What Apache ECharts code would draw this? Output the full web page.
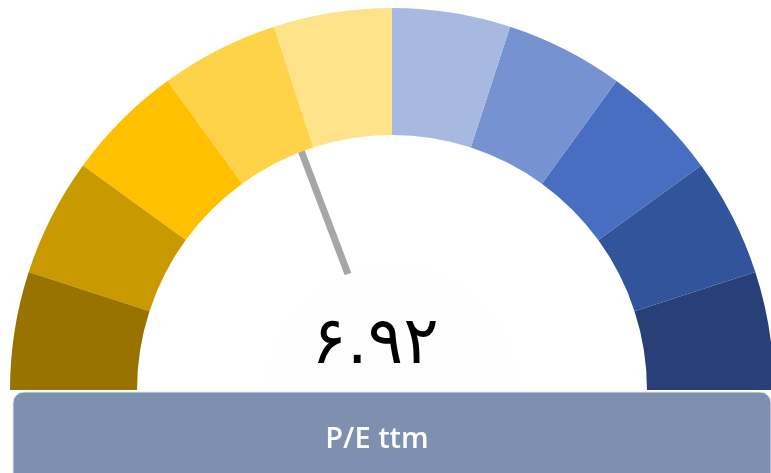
<!DOCTYPE html>
<html lang="en">
  <head>
    <meta charset="UTF-8">
    <title>P/E ttm</title>
    <script src="https://cdn.jsdelivr.net/npm/echarts@6/dist/echarts.min.js"></script>
    <style>
      html, body { margin: 0; padding: 0; background: #fff; }
      #chart { width: 771px; height: 473px; }
    </style>
  </head>
  <body>
    <div id="chart"></div>
    <script>
      // gauge range and value
      const gaugeMin = 0
      const gaugeMax = 18
      const peValue = 6.92
      const titleText = 'P/E ttm'
      // band colours, left to right (10 equal bands)
      const bandColors = ['#997300', '#c99a00', '#ffc000', '#ffd347', '#ffe38a',
        '#a8b9e1', '#7792d1', '#476ec0', '#31549a', '#283f78']

      const faDigits = ['۰', '۱', '۲', '۳', '۴', '۵', '۶', '۷', '۸', '۹']
      function toPersian(v) {
        return v.toFixed(2).replace(/[0-9]/g, d => faDigits[+d])
      }

      const bandStops = bandColors.map((c, i) => [(i + 1) / bandColors.length, c])

      const cx = 392
      const cy = 390
      const outerR = 382
      const innerR = 255

      const chart = echarts.init(document.getElementById('chart'))
      chart.setOption({
        animation: false,
        backgroundColor: '#ffffff',
        graphic: [
          {
            type: 'rect',
            shape: { x: 13, y: 392, width: 758, height: 100, r: 11 },
            style: { fill: '#7f8fb0', stroke: '#e4e8f0', lineWidth: 1 },
            z: 1
          },
          {
            type: 'text',
            x: 377,
            y: 440,
            style: {
              text: titleText,
              fill: '#ffffff',
              font: '600 29px "Open Sans", sans-serif',
              textAlign: 'center',
              textVerticalAlign: 'middle'
            },
            z: 2
          }
        ],
        series: [
          {
            type: 'pie',
            center: [cx, cy],
            radius: [0, 125],
            silent: true,
            label: { show: false },
            itemStyle: { color: '#fefefe' },
            data: [1],
            z: 0
          },
          {
            type: 'gauge',
            center: [cx, cy],
            radius: outerR,
            startAngle: 180,
            endAngle: 0,
            min: gaugeMin,
            max: gaugeMax,
            splitNumber: bandColors.length,
            axisLine: {
              lineStyle: { width: outerR - innerR, color: bandStops }
            },
            axisTick: { show: false },
            splitLine: { show: false },
            axisLabel: { show: false },
            pointer: {
              icon: 'rect',
              length: 131,
              width: 7,
              offsetCenter: [0, -124],
              itemStyle: { color: '#a6a6a6' }
            },
            anchor: { show: false },
            title: { show: false },
            detail: {
              offsetCenter: [-17, -44],
              fontSize: 66,
              fontWeight: 500,
              fontFamily: 'DejaVu Sans',
              lineHeight: 90,
              height: 90,
              overflow: 'none',
              color: '#000000',
              formatter: v => toPersian(v)
            },
            data: [{ value: peValue }]
          }
        ]
      })
    </script>
  </body>
</html>
